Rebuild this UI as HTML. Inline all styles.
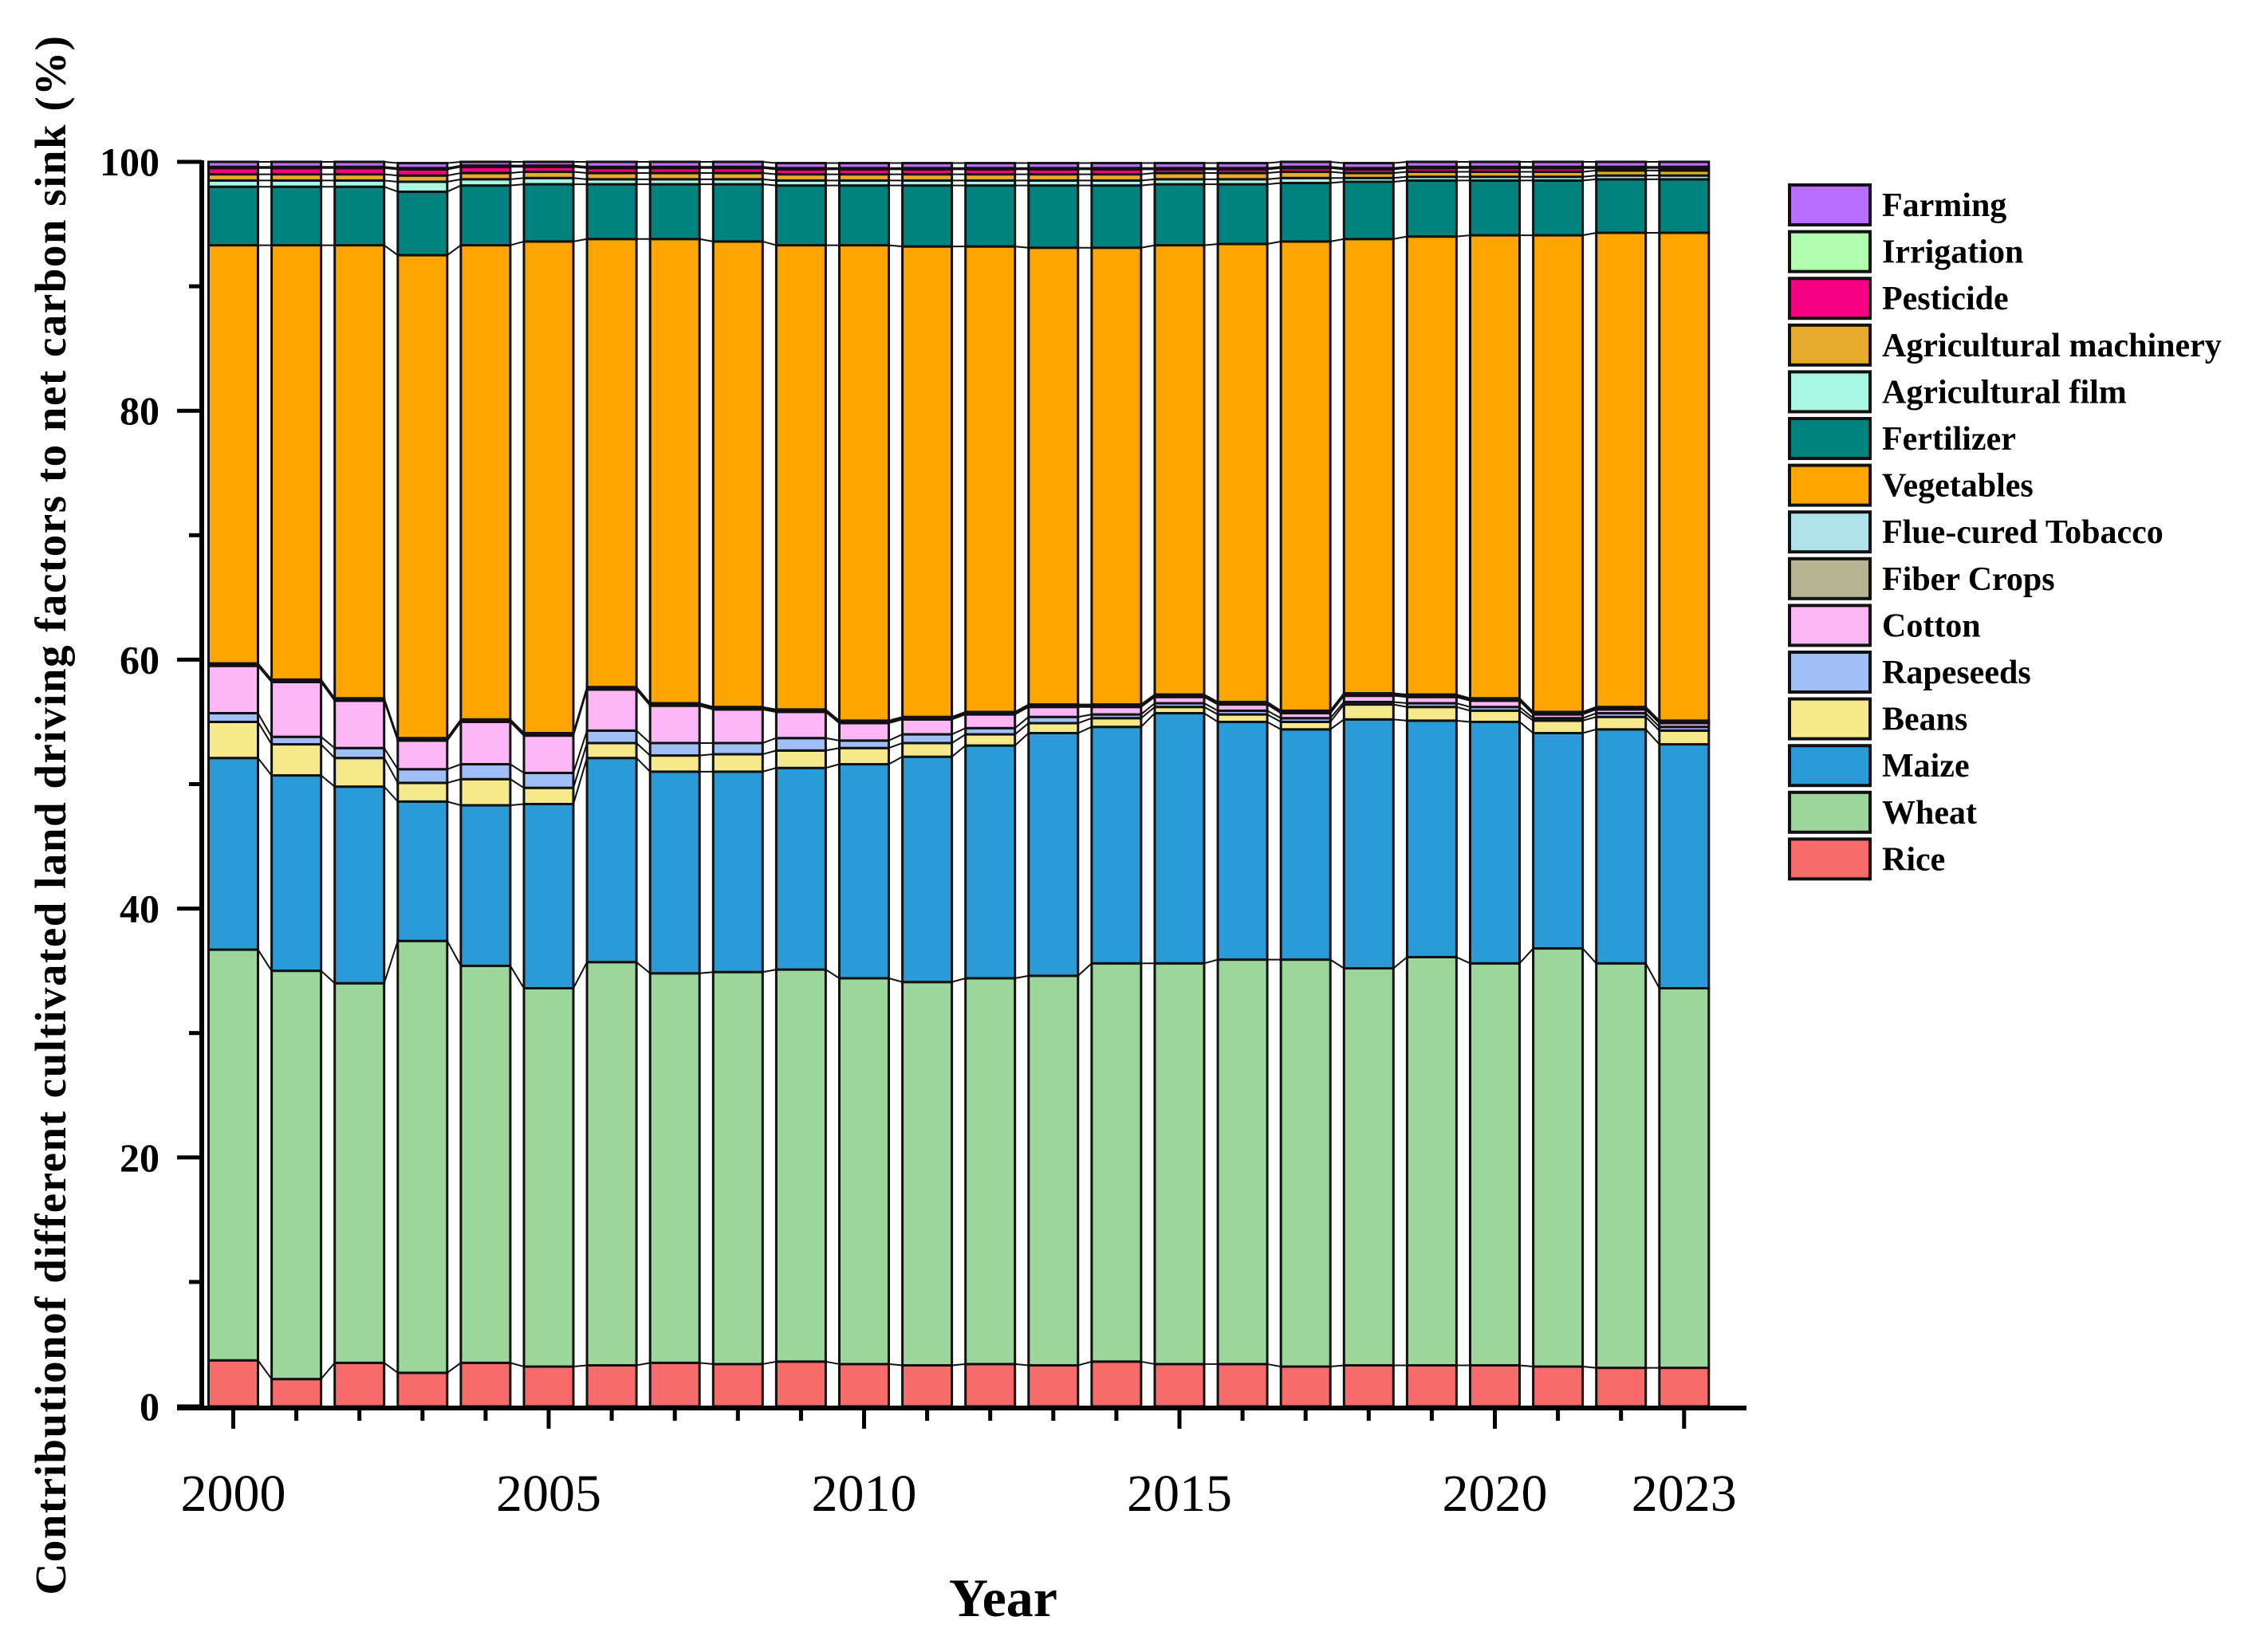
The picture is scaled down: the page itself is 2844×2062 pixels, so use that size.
<!DOCTYPE html>
<html><head><meta charset="utf-8"><style>
html,body{margin:0;padding:0;background:#fff;}
svg{display:block;}
text{font-family:"Liberation Serif",serif;}
</style></head><body>
<svg id="chart" width="2844" height="2062" viewBox="0 0 2844 2062" xmlns="http://www.w3.org/2000/svg">
<g id="bars"></g>
<g id="axes"></g>
<g id="legend"></g>
<text transform="translate(82,1022) rotate(-90)" text-anchor="middle" font-size="55" font-weight="bold" letter-spacing="1.5">Contributionof different cultivated land driving factors to net carbon sink (%)</text>
<text x="1258" y="2027" text-anchor="middle" font-size="68" font-weight="bold">Year</text>
</svg>
<script>
const years = [2000,2001,2002,2003,2004,2005,2006,2007,2008,2009,2010,2011,2012,2013,2014,2015,2016,2017,2018,2019,2020,2021,2022,2023];
const yTicks = [0,20,40,60,80,100];
const xTickLabels = [2000,2005,2010,2015,2020,2023];
const seriesNames = ["Rice","Wheat","Maize","Beans","Rapeseeds","Cotton","Fiber Crops","Flue-cured Tobacco","Vegetables","Fertilizer","Agricultural film","Agricultural machinery","Pesticide","Irrigation","Farming"];
const seriesColors = ["#f76b6b","#9dd69b","#2a9bd6","#f5e98c","#a0bff7","#fbb6f6","#b5b392","#b0e3e9","#ffa500","#00837f","#a9f7e2","#e6ab2c","#f50080","#b2fcaf","#b86dfc"];
const rice = [3.7,2.2,3.5,2.7,3.5,3.2,3.3,3.5,3.4,3.6,3.4,3.3,3.4,3.3,3.6,3.4,3.4,3.2,3.3,3.3,3.3,3.2,3.1,3.1];
const wheat = [33.0,32.8,30.5,34.7,31.9,30.4,32.4,31.3,31.5,31.5,31.0,30.8,31.0,31.3,32.0,32.2,32.5,32.7,31.9,32.8,32.3,33.6,32.5,30.5];
const maize = [15.4,15.7,15.8,11.2,12.9,14.8,16.4,16.2,16.1,16.2,17.2,18.1,18.7,19.5,19.0,20.1,19.1,18.5,20.0,19.0,19.4,17.3,18.8,19.6];
const beans = [2.9,2.5,2.3,1.5,2.1,1.3,1.2,1.3,1.4,1.4,1.3,1.1,0.9,0.8,0.7,0.5,0.6,0.6,1.2,1.1,0.9,1.0,1.0,1.1];
const rapeseeds = [0.7,0.6,0.8,1.1,1.2,1.2,1.0,1.0,0.9,1.0,0.6,0.7,0.5,0.5,0.3,0.3,0.3,0.3,0.2,0.3,0.3,0.2,0.3,0.3];
const cotton = [3.8,4.4,3.8,2.3,3.4,3.0,3.3,3.0,2.7,2.1,1.4,1.2,1.1,0.8,0.6,0.5,0.5,0.4,0.5,0.5,0.5,0.3,0.3,0.3];
const fiber = [0.1,0.1,0.1,0.1,0.1,0.1,0.1,0.1,0.1,0.1,0.1,0.1,0.1,0.1,0.1,0.1,0.1,0.1,0.1,0.1,0.1,0.1,0.1,0.1];
const tobacco = [0.1,0.1,0.1,0.1,0.1,0.1,0.1,0.1,0.1,0.1,0.1,0.1,0.1,0.1,0.1,0.1,0.1,0.1,0.1,0.1,0.1,0.1,0.1,0.1];
const vegetables = [33.6,34.9,36.4,38.8,38.1,39.5,36.0,37.3,37.4,37.3,38.2,37.8,37.4,36.7,36.7,36.1,36.8,37.7,36.5,36.8,37.2,38.3,38.1,39.2];
const fertilizer = [4.7,4.7,4.7,5.1,4.8,4.6,4.4,4.4,4.6,4.8,4.8,4.9,4.9,5.0,5.0,4.9,4.8,4.7,4.6,4.5,4.4,4.4,4.3,4.3];
const film = [0.5,0.5,0.5,0.8,0.5,0.5,0.4,0.4,0.4,0.4,0.4,0.4,0.4,0.4,0.4,0.4,0.4,0.4,0.3,0.3,0.3,0.3,0.3,0.3];
const machinery = [0.5,0.5,0.5,0.5,0.5,0.5,0.5,0.5,0.5,0.5,0.5,0.5,0.5,0.5,0.5,0.5,0.5,0.5,0.4,0.4,0.4,0.4,0.4,0.4];
const pesticide = [0.5,0.5,0.5,0.5,0.5,0.4,0.4,0.4,0.4,0.4,0.4,0.4,0.4,0.4,0.4,0.3,0.3,0.3,0.3,0.3,0.3,0.3,0.2,0.2];
const irrigation = [0.1,0.1,0.1,0.1,0.1,0.1,0.1,0.1,0.1,0.1,0.1,0.1,0.1,0.1,0.1,0.1,0.1,0.1,0.1,0.1,0.1,0.1,0.1,0.1];
const farming = [0.4,0.4,0.4,0.4,0.4,0.4,0.4,0.4,0.4,0.4,0.4,0.4,0.4,0.4,0.4,0.4,0.4,0.4,0.4,0.4,0.4,0.4,0.4,0.4];
const series = [rice,wheat,maize,beans,rapeseeds,cotton,fiber,tobacco,vegetables,fertilizer,film,machinery,pesticide,irrigation,farming];

const NS="http://www.w3.org/2000/svg";
const X0=292.5, DX=79.1, BW=62, Y0=1764, Y100=203;
function xs(i){return X0+i*DX;}
function ys(v){return Y0-(v/100)*(Y0-Y100);}
function mk(tag,attrs,parent){const e=document.createElementNS(NS,tag);for(const k in attrs)e.setAttribute(k,attrs[k]);parent.appendChild(e);return e;}
const gb=document.getElementById('bars'), ga=document.getElementById('axes'), gl=document.getElementById('legend');

const cum=years.map((_,i)=>{let s=0;const arr=[0];series.forEach(sr=>{s+=sr[i];arr.push(Math.min(s,100));});return arr;});
years.forEach((yr,i)=>{
  series.forEach((sr,k)=>{
    const y1=ys(cum[i][k+1]), y0=ys(cum[i][k]);
    const r=mk('rect',{x:xs(i)-BW/2,y:y1,width:BW,height:Math.max(0,y0-y1),fill:seriesColors[k],stroke:'#111','stroke-width':3},gb);
    
    
  });
});
for(let i=0;i<years.length-1;i++){
  for(let k=1;k<=series.length;k++){
    const l=mk('line',{x1:xs(i)+BW/2,y1:ys(cum[i][k]),x2:xs(i+1)-BW/2,y2:ys(cum[i+1][k]),stroke:'#111','stroke-width':2},gb);
    
    
  }
}
let a=mk('line',{x1:253,y1:Y100-2,x2:253,y2:Y0+2,stroke:'#000','stroke-width':6},ga);

a=mk('line',{x1:222,y1:Y0+2,x2:2190,y2:Y0+2,stroke:'#000','stroke-width':6},ga);

for(let v=0;v<=100;v+=10){
  const major=v%20===0;
  const t=mk('line',{x1:major?222:237,y1:ys(v),x2:253,y2:ys(v),stroke:'#000','stroke-width':5},ga);
  
}
yTicks.forEach(v=>{
  const t=mk('text',{x:200,y:ys(v)+17,'text-anchor':'end','font-size':50,'font-weight':'bold'},ga);
  t.textContent=v;
  
});
years.forEach((yr,i)=>{
  const major=xTickLabels.includes(yr);
  const t=mk('line',{x1:xs(i),y1:Y0+2,x2:xs(i),y2:Y0+(major?28:18),stroke:'#000','stroke-width':5},ga);
  
});
xTickLabels.forEach(yr=>{
  const i=years.indexOf(yr);
  const t=mk('text',{x:xs(i),y:1895,'text-anchor':'middle','font-size':66},ga);
  t.textContent=yr;
  
});
for(let j=0;j<series.length;j++){
  const k=series.length-1-j;
  const cy=257+j*58.6;
  const r=mk('rect',{x:2244,y:cy-25,width:101,height:50,fill:seriesColors[k],stroke:'#111','stroke-width':4},gl);
  
  const t=mk('text',{x:2360,y:cy+14,'font-size':42,'font-weight':'bold'},gl);
  t.textContent=seriesNames[k];
  
}
</script>
</body></html>
